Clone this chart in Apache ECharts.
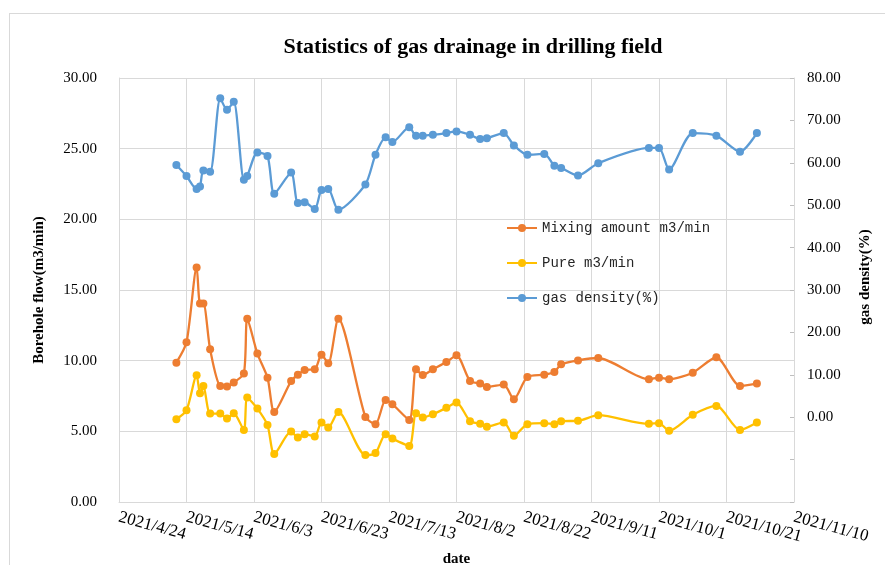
<!DOCTYPE html>
<html lang="en">
<head>
  <meta charset="UTF-8">
  <title>Statistics of gas drainage in drilling field</title>
  <script src="https://cdn.jsdelivr.net/npm/echarts@6/dist/echarts.min.js"></script>
</head>
<style>
  * {
    padding: 0px;
    margin: 0px;
  }
  body {
    background: #fff;
  }
  #frame {
    position: absolute;
    left: 9px;
    top: 13px;
    width: 900px;
    height: 600px;
    border-left: 1px solid #D9D9D9;
    border-top: 1px solid #D9D9D9;
  }
  #main {
    position: absolute;
    left: 0;
    top: 0;
    width: 885px;
    height: 565px;
  }
</style>
<body>
<div id="frame"></div>
<div id="main"></div>
<script>
  // measurement dates
  var dates = [
    '2021/5/11', '2021/5/14', '2021/5/17', '2021/5/18', '2021/5/19', '2021/5/21', '2021/5/24',
    '2021/5/26', '2021/5/28', '2021/5/31', '2021/6/1', '2021/6/4', '2021/6/7', '2021/6/9',
    '2021/6/14', '2021/6/16', '2021/6/18', '2021/6/21', '2021/6/23', '2021/6/25', '2021/6/28',
    '2021/7/6', '2021/7/9', '2021/7/12', '2021/7/14', '2021/7/19', '2021/7/21', '2021/7/23',
    '2021/7/26', '2021/7/30', '2021/8/2', '2021/8/6', '2021/8/9', '2021/8/11', '2021/8/16',
    '2021/8/19', '2021/8/23', '2021/8/28', '2021/8/31', '2021/9/2', '2021/9/7', '2021/9/13',
    '2021/9/28', '2021/10/1', '2021/10/4', '2021/10/11', '2021/10/18', '2021/10/25', '2021/10/30'
  ];
  // Mixing amount m3/min
  var mixing = [
    9.86, 11.3, 16.6, 14.05, 14.05, 10.8, 8.2,
    8.17, 8.45, 9.1, 12.97, 10.5, 8.8, 6.37,
    8.56, 9.0, 9.34, 9.39, 10.42, 9.81, 12.97,
    6.02, 5.51, 7.22, 6.92, 5.81, 9.39, 8.99,
    9.39, 9.9, 10.38, 8.56, 8.38, 8.14, 8.31,
    7.27, 8.85, 9.01, 9.2, 9.74, 10.02, 10.19,
    8.68, 8.8, 8.68, 9.15, 10.24, 8.21, 8.38
  ];
  // Pure m3/min
  var pure = [
    5.86, 6.49, 8.96, 7.69, 8.21, 6.26, 6.26,
    5.9, 6.28, 5.1, 7.39, 6.61, 5.44, 3.39,
    4.99, 4.57, 4.8, 4.64, 5.63, 5.27, 6.37,
    3.32, 3.46, 4.8, 4.49, 3.97, 6.28, 5.98,
    6.21, 6.66, 7.04, 5.72, 5.53, 5.32, 5.63,
    4.68, 5.51, 5.58, 5.51, 5.72, 5.74, 6.14,
    5.53, 5.58, 5.04, 6.17, 6.8, 5.1, 5.63
  ];
  // gas density(%)
  var density = [
    59.5, 56.9, 53.8, 54.4, 58.2, 57.9, 75.2,
    72.5, 74.4, 56.0, 56.9, 62.4, 61.6, 52.7,
    57.7, 50.5, 50.7, 49.1, 53.6, 53.8, 48.9,
    54.9, 61.9, 66.0, 64.9, 68.4, 66.4, 66.4,
    66.6, 67.0, 67.4, 66.6, 65.6, 65.8, 67.0,
    64.1, 61.9, 62.1, 59.3, 58.8, 57.0, 59.9,
    63.5, 63.5, 58.4, 67.0, 66.4, 62.6, 67.0
  ];
  var startDate = '2021/4/24';
  var endDate = '2021/11/10';

  window.onload = function () {
    var DAY = 86400000;
    function toUTC(s) {
      var p = s.split('/');
      return Date.UTC(+p[0], +p[1] - 1, +p[2]);
    }
    var t0 = toUTC(startDate);
    function dayOf(s) {
      return Math.round((toUTC(s) - t0) / DAY);
    }
    function pairs(vals) {
      return vals.map(function (v, i) {
        return [dayOf(dates[i]), v];
      });
    }
    function fmtDay(d) {
      var t = new Date(t0 + d * DAY);
      return t.getUTCFullYear() + '/' + (t.getUTCMonth() + 1) + '/' + t.getUTCDate();
    }

    var serif = '"Liberation Serif", "DejaVu Serif", serif';
    var gridColor = '#D9D9D9';
    let myChart = echarts.init(document.getElementById('main'));

    function lineSeries(name, data, color, yIndex) {
      return {
        name: name,
        type: 'line',
        yAxisIndex: yIndex,
        data: data,
        smooth: 0.25,
        symbol: 'circle',
        symbolSize: 8,
        showSymbol: true,
        itemStyle: {color: color},
        lineStyle: {color: color, width: 2.3}
      };
    }

    myChart.setOption({
      backgroundColor: 'transparent',
      animation: false,
      title: {
        text: 'Statistics of gas drainage in drilling field',
        left: 468,
        top: 31,
        textAlign: 'center',
        textStyle: {
          fontFamily: serif,
          fontSize: 22,
          fontWeight: 'bold',
          color: '#000'
        }
      },
      legend: {
        orient: 'vertical',
        left: 501,
        top: 216,
        itemWidth: 30,
        itemHeight: 10,
        itemGap: 21,
        data: ['Mixing amount m3/min', 'Pure m3/min', 'gas density(%)'],
        textStyle: {
          fontFamily: '"Liberation Mono", "DejaVu Sans Mono", monospace',
          fontSize: 14,
          color: '#262626'
        }
      },
      grid: {
        left: 119,
        right: 91,
        top: 78,
        bottom: 63,
        outerBoundsMode: 'none'
      },
      xAxis: {
        type: 'value',
        min: 0,
        max: dayOf(endDate),
        interval: 20,
        name: 'date',
        nameLocation: 'middle',
        nameGap: 50,
        nameTextStyle: {
          fontFamily: serif,
          fontSize: 15,
          fontWeight: 'bold',
          color: '#000'
        },
        axisLine: {lineStyle: {color: gridColor}},
        axisTick: {show: false},
        splitLine: {show: true, lineStyle: {color: gridColor}},
        axisLabel: {
          rotate: -15,
          margin: 15,
          fontFamily: serif,
          fontSize: 17,
          color: '#000',
          formatter: fmtDay
        }
      },
      yAxis: [
        {
          type: 'value',
          min: 0,
          max: 30,
          interval: 5,
          name: 'Borehole flow(m3/min)',
          nameLocation: 'middle',
          nameRotate: 90,
          nameGap: 72,
          nameTextStyle: {
            fontFamily: serif,
            fontSize: 15,
            fontWeight: 'bold',
            color: '#000'
          },
          axisLine: {show: true, lineStyle: {color: gridColor}},
          axisTick: {show: false},
          splitLine: {show: true, lineStyle: {color: gridColor}},
          axisLabel: {
            margin: 22,
            fontFamily: serif,
            fontSize: 15,
            color: '#000',
            formatter: function (v) { return v.toFixed(2); }
          }
        },
        {
          type: 'value',
          min: -20,
          max: 80,
          interval: 10,
          name: 'gas density(%)',
          nameLocation: 'middle',
          nameRotate: 90,
          nameGap: 64,
          nameTextStyle: {
            fontFamily: serif,
            fontSize: 15,
            fontWeight: 'bold',
            color: '#000',
            padding: [0, 0, 0, 26]
          },
          axisLine: {show: true, lineStyle: {color: gridColor}},
          axisTick: {show: true, inside: true, length: 4, lineStyle: {color: '#BFBFBF'}},
          splitLine: {show: false},
          axisLabel: {
            margin: 13,
            fontFamily: serif,
            fontSize: 15,
            color: '#000',
            formatter: function (v) { return v < 0 ? '' : v.toFixed(2); }
          }
        }
      ],
      series: [
        lineSeries('Mixing amount m3/min', pairs(mixing), '#ED7D31', 0),
        lineSeries('Pure m3/min', pairs(pure), '#FFC000', 0),
        lineSeries('gas density(%)', pairs(density), '#5B9BD5', 1)
      ]
    });
  };
</script>
</body>
</html>
